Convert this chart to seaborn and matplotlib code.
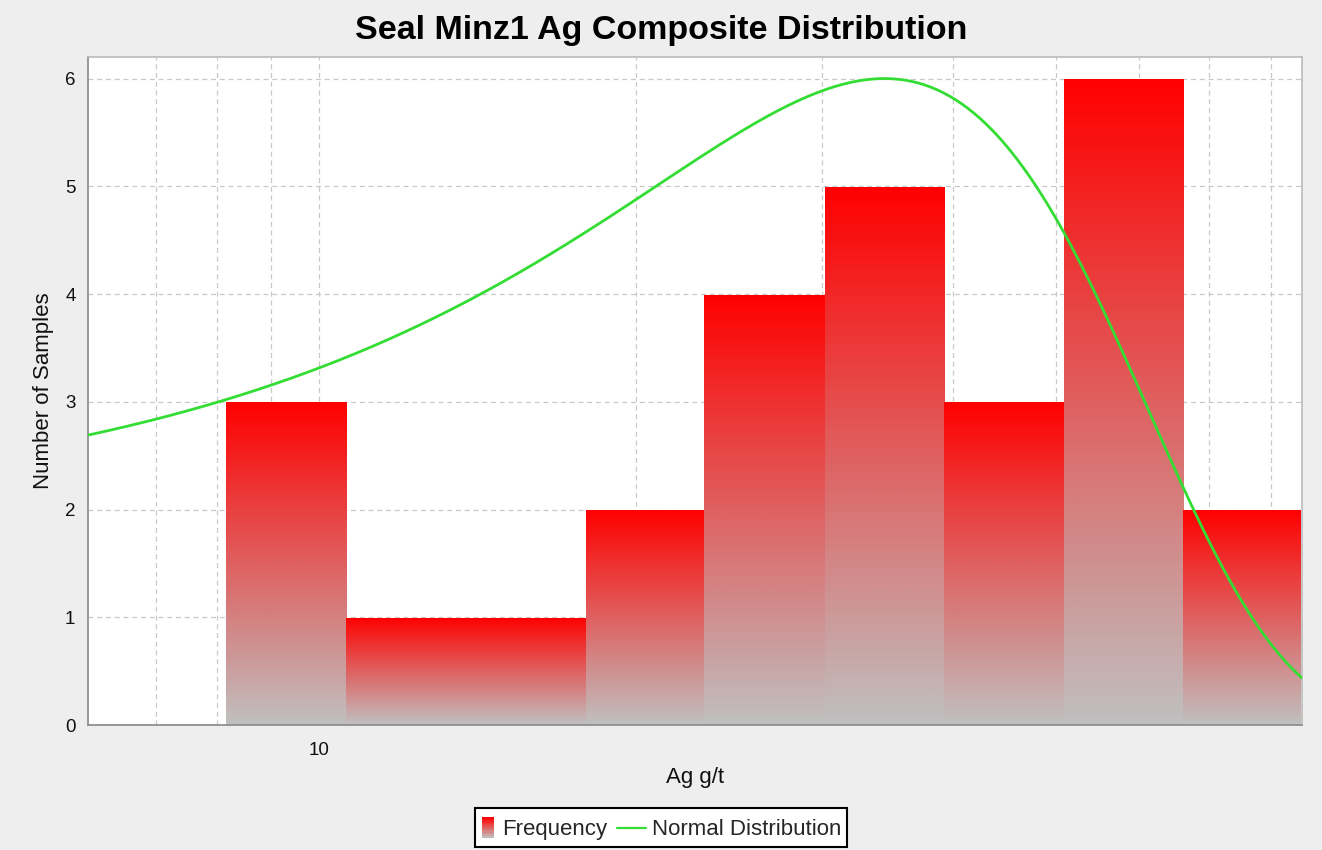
import numpy as np
import pandas as pd
import matplotlib
matplotlib.use("Agg")
import matplotlib.pyplot as plt
import matplotlib.ticker as mticker
from matplotlib.colors import LinearSegmentedColormap
from matplotlib.patches import Rectangle
from matplotlib.lines import Line2D
from matplotlib.legend_handler import HandlerBase
import seaborn as sns

# ---------------- data ----------------
bin_edges = [8.15, 10.6, 13.8, 17.9, 23.2, 30.2, 39.2, 50.9, 66.1, 85.7]
counts = [3, 1, 1, 2, 4, 5, 3, 6, 2]
normal_mean = 34.4      # g/t
normal_sd = 22.4        # g/t
normal_peak = 6.0       # samples
x_min = 6.03
y_max = 6.2
y_ticks = [0, 1, 2, 3, 4, 5, 6]
title = "Seal Minz1 Ag Composite Distribution"
x_label = "Ag g/t"
y_label = "Number of Samples"
legend_labels = ["Frequency", "Normal Distribution"]

# ---------------- style ----------------
sns.set_theme(style="white")
plt.rcParams['font.family'] = ['Liberation Sans', 'DejaVu Sans']

BG = "#eeeeee"
RED = "#ff0000"
GREY = "#c0c0c0"
GREEN = "#33dd33"
grad_cmap = LinearSegmentedColormap.from_list("rg", [GREY, RED])

fig = plt.figure(figsize=(13.22, 8.5), dpi=100, facecolor=BG)
ax = fig.add_axes([88 / 1322, 1 - 725 / 850, (1302 - 88) / 1322, (725 - 57) / 850])
ax.set_facecolor("white")

edges = np.array(bin_edges)
centers = np.sqrt(edges[:-1] * edges[1:])
df = pd.DataFrame({"Ag": centers, "n": counts})
log_edges = [float(v) for v in np.log10(edges)]

sns.histplot(data=df, x="Ag", weights="n", bins=log_edges, log_scale=True,
             ax=ax, stat="count", element="bars", fill=True,
             color=RED, edgecolor="none", linewidth=0, alpha=1)

# replace flat bars by vertical red -> grey gradients (slightly overlapped, no gaps)
grad = np.linspace(0, 1, 256).reshape(-1, 1)
for p in list(ax.patches):
    x0 = p.get_x()
    w = p.get_width()
    h = p.get_height()
    if h <= 0:
        continue
    p.set_visible(False)
    ax.imshow(grad, cmap=grad_cmap, origin="lower", aspect="auto",
              extent=[x0, x0 + w * 1.012, 0, h], interpolation="bilinear", zorder=1)

# normal distribution curve (linear-space normal, drawn on log axis)
xs = np.geomspace(x_min, edges[-1], 600)
ys = normal_peak * np.exp(-0.5 * ((xs - normal_mean) / normal_sd) ** 2)
sns.lineplot(x=xs, y=ys, ax=ax, color=GREEN, linewidth=2, zorder=3)

ax.set_xscale("log")
ax.set_xlim(x_min, edges[-1])
ax.set_ylim(0, y_max)
ax.set_yticks(y_ticks)

ax.xaxis.set_major_locator(mticker.FixedLocator([10]))
ax.xaxis.set_major_formatter(mticker.FixedFormatter(["10"]))
ax.xaxis.set_minor_locator(mticker.LogLocator(base=10, subs=np.arange(2, 10), numticks=20))
ax.xaxis.set_minor_formatter(mticker.NullFormatter())

grid_kw = dict(color="#c8c8c8", linestyle=(0, (4, 3)), linewidth=0.9)
ax.grid(True, which="major", axis="both", **grid_kw)
ax.grid(True, which="minor", axis="x", **grid_kw)
ax.set_axisbelow(True)

ax.tick_params(axis="both", which="both", direction="out", length=4, width=1,
               color="#888888", labelsize=13.5, labelcolor="#111111", pad=5)
ax.tick_params(axis="x", which="both", pad=8)

for side in ["top", "right", "left", "bottom"]:
    ax.spines[side].set_color("#888888")
    ax.spines[side].set_linewidth(1.2)
ax.spines["top"].set_color("#bbbbbb")
ax.spines["right"].set_color("#bbbbbb")

ax.set_xlabel(x_label, fontsize=16, labelpad=6, color="#111111")
ax.set_ylabel(y_label, fontsize=16, labelpad=8, color="#111111")
fig.text(0.5, 1 - 30 / 850, title, ha="center", va="center",
         fontsize=24.5, fontweight="bold", color="black")


class GradientHandler(HandlerBase):
    # sizes in points
    def create_artists(self, legend, orig_handle, xdescent, ydescent,
                       width, height, fontsize, trans):
        arts = []
        n = 16
        bw = 8.6
        hh = 14.4
        x0 = -xdescent + width - bw - 1.5
        y0 = -ydescent + (height - hh) / 2
        for i in range(n):
            c = grad_cmap((i + 0.5) / n)
            r = Rectangle((x0, y0 + hh * i / n), bw, hh / n + 0.2,
                          facecolor=c, edgecolor="none", transform=trans)
            arts.append(r)
        return arts


class WideLineHandler(HandlerBase):
    def create_artists(self, legend, orig_handle, xdescent, ydescent,
                       width, height, fontsize, trans):
        y = -ydescent + height / 2
        ln = Line2D([-xdescent - 9.8, -xdescent + width], [y, y],
                    color=orig_handle.get_color(), linewidth=orig_handle.get_linewidth(),
                    transform=trans)
        return [ln]


h_freq = Rectangle((0, 0), 1, 1, facecolor=RED)
h_norm = Line2D([0], [0], color=GREEN, linewidth=1.6)
leg = fig.legend([h_freq, h_norm], legend_labels,
                 handler_map={Rectangle: GradientHandler(), Line2D: WideLineHandler()},
                 loc="lower center", bbox_to_anchor=(0.5, 0.0), ncol=2,
                 fontsize=16, frameon=True, fancybox=False, framealpha=1,
                 edgecolor="black", facecolor="white", handlelength=0.7,
                 handleheight=1.6, handletextpad=0.26, columnspacing=1.06,
                 borderpad=0.25, borderaxespad=0.12)
leg.get_frame().set_linewidth(1.5)

fig.savefig("out.png", dpi=100, facecolor=BG)
